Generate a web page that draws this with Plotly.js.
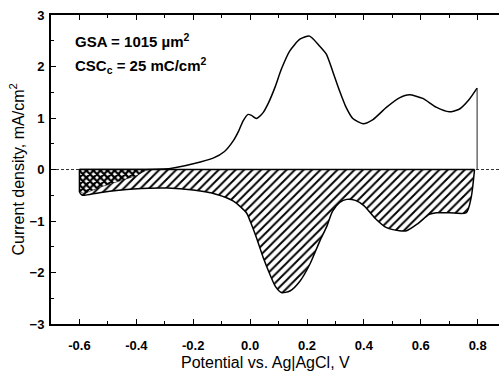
<!DOCTYPE html>
<html>
<head>
<meta charset="utf-8">
<script src="https://cdn.plot.ly/plotly-3.0.1.min.js"></script>
<style>
  html, body { margin: 0; padding: 0; background: #fff; overflow: hidden; }
  #cv { width: 499px; height: 375px; }
</style>
</head>
<body>
<div id="cv"></div>
<script>
// Anodic sweep (upper branch), potential in V, current density in mA/cm^2
const anodicPotential = [-0.60, -0.40, -0.28, -0.20, -0.13, -0.09, -0.06, -0.04, -0.025, -0.007, 0.005, 0.022,
  0.045, 0.065, 0.087, 0.11, 0.139, 0.175, 0.209, 0.244, 0.268, 0.292, 0.315, 0.338, 0.361, 0.397,
  0.432, 0.478, 0.525, 0.56, 0.607, 0.654, 0.70, 0.735, 0.77, 0.798];
const anodicCurrent = [0.0, 0.0, 0.02, 0.11, 0.22, 0.35, 0.55, 0.75, 0.94, 1.07, 1.05, 0.99,
  1.10, 1.30, 1.59, 1.95, 2.30, 2.53, 2.59, 2.40, 2.24, 1.88, 1.52, 1.20, 0.99, 0.89,
  0.97, 1.20, 1.39, 1.45, 1.38, 1.21, 1.12, 1.17, 1.36, 1.58];

// Cathodic sweep (lower branch), from the negative limit to the positive limit
const cathodicPotential = [-0.60, -0.59, -0.53, -0.41, -0.29, -0.20, -0.12, -0.06, -0.013, 0.0, 0.022,
  0.046, 0.069, 0.09, 0.11, 0.14, 0.175, 0.21, 0.245, 0.27, 0.29, 0.315, 0.34, 0.37, 0.40,
  0.44, 0.48, 0.525, 0.55, 0.59, 0.63, 0.655, 0.70, 0.76, 0.777, 0.789];
const cathodicCurrent = [-0.44, -0.50, -0.45, -0.38, -0.36, -0.40, -0.48, -0.61, -0.84, -1.00, -1.32,
  -1.71, -2.03, -2.28, -2.39, -2.36, -2.17, -1.84, -1.39, -1.10, -0.81, -0.64, -0.58, -0.60, -0.70,
  -0.95, -1.13, -1.19, -1.19, -1.05, -0.87, -0.84, -0.84, -0.84, -0.55, 0.0];

// Boundary of the cross-hatched portion at the negative end of the cathodic charge
const crossPotential = [-0.60, -0.36, -0.40, -0.46, -0.52, -0.585, -0.60];
const crossCurrent = [0.0, 0.0, -0.12, -0.22, -0.33, -0.47, -0.42];

const axisTicks = [-0.6, -0.4, -0.2, 0.0, 0.2, 0.4, 0.6, 0.8];
const axisTickText = ['-0.6', '-0.4', '-0.2', '0.0', '0.2', '0.4', '0.6', '0.8'];
const currentTicks = [-3, -2, -1, 0, 1, 2, 3];

const gsaText = 'GSA = 1015 \u00b5m<sup>2</sup>';
const cscText = 'CSC<sub>c</sub> = 25 mC/cm<sup>2</sup>';
const xTitle = 'Potential vs. Ag|AgCl, V';
const yTitle = 'Current density, mA/cm<sup>2</sup>';

const nCat = cathodicPotential.length;
const vLow = cathodicPotential[0];
const vHigh = anodicPotential[anodicPotential.length - 1];

const traces = [
  // zero-current baseline that bounds the cathodic charge from above
  {
    x: [vLow, cathodicPotential[nCat - 1]], y: [0, 0], type: 'scatter', mode: 'lines',
    line: { color: '#000', width: 1.5 }, hoverinfo: 'skip'
  },
  // cathodic sweep, hatched down to the baseline
  {
    x: cathodicPotential, y: cathodicCurrent, type: 'scatter', mode: 'lines', fill: 'tonexty',
    fillcolor: '#fff',
    fillpattern: { shape: '/', size: 6, solidity: 0.32, fgcolor: '#000', bgcolor: '#fff' },
    line: { color: '#000', width: 1.5, shape: 'spline', smoothing: 0.7 },
    hoverinfo: 'skip'
  },
  // cross-hatched portion
  {
    x: crossPotential, y: crossCurrent, type: 'scatter', mode: 'lines', fill: 'toself',
    fillcolor: '#fff',
    fillpattern: { shape: 'x', size: 5, solidity: 0.7, fgcolor: '#000', bgcolor: '#fff' },
    line: { color: '#000', width: 0.5 },
    hoverinfo: 'skip'
  },
  // left edge of the charge region at the negative limit
  {
    x: [vLow, vLow], y: [0, cathodicCurrent[0]], type: 'scatter', mode: 'lines',
    line: { color: '#000', width: 1.5 }, hoverinfo: 'skip'
  },
  // anodic sweep
  {
    x: anodicPotential, y: anodicCurrent, type: 'scatter', mode: 'lines',
    line: { color: '#000', width: 1.5, shape: 'spline', smoothing: 0.6 },
    hoverinfo: 'skip'
  },
  // switching edge at the positive limit
  {
    x: [vHigh, vHigh], y: [anodicCurrent[anodicCurrent.length - 1], 0],
    type: 'scatter', mode: 'lines',
    line: { color: '#222', width: 1 },
    hoverinfo: 'skip'
  }
];

const fontFamily = 'Liberation Sans, Arial, sans-serif';
const tickFont = { family: fontFamily, size: 13, color: '#000', weight: 'bold' };
const titleFont = { family: fontFamily, size: 16, color: '#000' };
const noteFont = { family: fontFamily, size: 15, color: '#000', weight: 'bold' };

const layout = {
  width: 499, height: 375,
  margin: { l: 51, r: 0, t: 15, b: 51 },
  paper_bgcolor: '#fff', plot_bgcolor: '#fff',
  showlegend: false,
  xaxis: {
    range: [-0.7, 0.875],
    tickvals: axisTicks, ticktext: axisTickText,
    ticks: 'inside', ticklen: 5, tickwidth: 1, tickcolor: '#000',
    minor: { dtick: 0.1, ticks: 'inside', ticklen: 3, tickwidth: 1, tickcolor: '#000' },
    showline: true, linecolor: '#000', linewidth: 2, mirror: 'ticks',
    showgrid: false, zeroline: false,
    tickfont: tickFont, ticklabelstandoff: 8
  },
  yaxis: {
    range: [-3, 3],
    tickvals: currentTicks,
    ticks: 'inside', ticklen: 5, tickwidth: 1, tickcolor: '#000',
    minor: { dtick: 0.5, ticks: 'inside', ticklen: 3, tickwidth: 1, tickcolor: '#000' },
    showline: true, linecolor: '#000', linewidth: 2, mirror: false,
    showgrid: false, zeroline: false,
    tickfont: tickFont, ticklabelstandoff: 2
  },
  shapes: [
    { type: 'line', xref: 'paper', yref: 'y', x0: 0, x1: 1, y0: 0, y1: 0,
      line: { color: '#333', width: 1, dash: '3px,2px' }, layer: 'below' }
  ],
  annotations: [
    { text: gsaText, xref: 'paper', yref: 'paper', x: 0.05, y: 0.919, xanchor: 'left', yanchor: 'middle',
      showarrow: false, font: noteFont },
    { text: cscText, xref: 'paper', yref: 'paper', x: 0.05, y: 0.835, xanchor: 'left', yanchor: 'middle',
      showarrow: false, font: noteFont },
    // axis titles
    { text: xTitle, xref: 'x', yref: 'paper', x: 0.0, y: 0, yshift: -38, xshift: 15,
      xanchor: 'center', yanchor: 'middle', showarrow: false, font: titleFont },
    { text: yTitle, xref: 'paper', yref: 'paper', x: 0, y: 0.5, xshift: -34, textangle: -90,
      xanchor: 'center', yanchor: 'middle', showarrow: false, font: titleFont }
  ]
};

Plotly.newPlot('cv', traces, layout, { staticPlot: true, displayModeBar: false });
</script>
</body>
</html>
